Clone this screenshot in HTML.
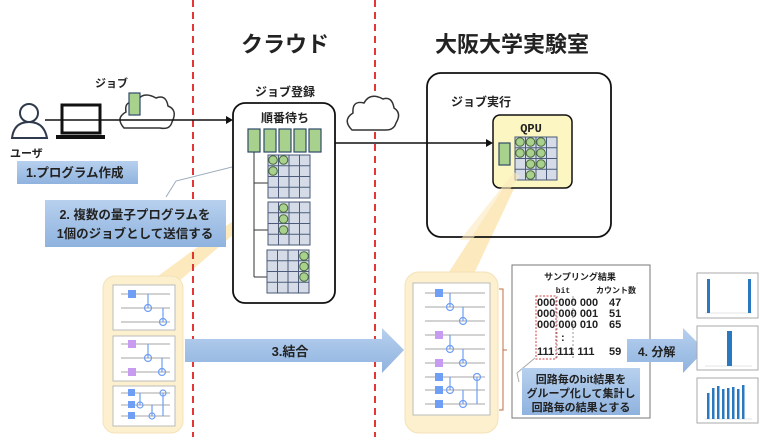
<!DOCTYPE html>
<html><head><meta charset="utf-8"><style>
html,body{margin:0;padding:0;background:#fff}
svg{display:block}
text{font-family:"Liberation Sans","Noto Sans CJK JP",sans-serif;font-weight:bold;fill:#222}
.m{font-family:"Liberation Mono","Noto Sans CJK JP",monospace}
</style></head><body>
<svg width="768" height="437" viewBox="0 0 768 437" xmlns="http://www.w3.org/2000/svg">
<defs>
<linearGradient id="bl" x1="0" y1="0" x2="0" y2="1"><stop offset="0" stop-color="#b7d0ee"/><stop offset="1" stop-color="#8fb3df"/></linearGradient>
<pattern id="gp" width="10.5" height="10.75" patternUnits="userSpaceOnUse"><rect width="10.5" height="10.75" fill="#d5dce8" stroke="#4a5a78" stroke-width="1"/></pattern>
<g id="grid"><rect x="0" y="0" width="42" height="43" fill="url(#gp)" stroke="#4a5a78" stroke-width="1"/></g>
</defs>
<!-- wedges (behind) -->
<path d="M150 282 L178 282 L262 210 L256 204 Z" fill="#fce9bd"/>
<path d="M445 278 L472 278 L520 176 L514 172 Z" fill="#fce9bd"/>
<!-- red dashed lines -->
<line x1="193" y1="0" x2="193" y2="437" stroke="#e02020" stroke-width="1.8" stroke-dasharray="7,5"/>
<line x1="375" y1="0" x2="375" y2="437" stroke="#e02020" stroke-width="1.8" stroke-dasharray="7,5"/>
<text x="285" y="52" font-size="22" text-anchor="middle">クラウド</text>
<text x="512" y="52" font-size="22" text-anchor="middle">大阪大学実験室</text>

<!-- user -->
<circle cx="29" cy="113" r="9" fill="none" stroke="#2f3b4d" stroke-width="2"/>
<path d="M12 138 Q14 122 29 122 Q44 122 47 138 Z" fill="none" stroke="#2f3b4d" stroke-width="2"/>
<text x="10" y="157" font-size="11">ユーザ</text>
<!-- laptop -->
<rect x="62" y="105" width="38" height="28" fill="#fff" stroke="#111" stroke-width="3"/>
<rect x="56" y="135" width="49" height="4" fill="#111"/>
<!-- cloud -->
<path d="M124 128 Q115 118 126 112 Q124 100 136 103 Q142 90 156 98 Q166 94 168 106 Q178 110 172 122 Q170 130 160 128 Z" fill="#fff" stroke="#333" stroke-width="1.5"/>
<rect x="129" y="93" width="11" height="22" fill="#a9d18e" stroke="#2f4a6a" stroke-width="1.2"/>
<text x="95" y="87" font-size="11">ジョブ</text>
<line x1="45" y1="120" x2="226" y2="120" stroke="#111" stroke-width="1.5"/>
<path d="M226 116 L233 120 L226 124 Z" fill="#111"/>
<rect x="17" y="161" width="121" height="23" fill="url(#bl)"/>
<text x="26" y="177" font-size="12.5">1.プログラム作成</text>

<!-- callout 2 -->
<path d="M166 197 L176 181 L268 158" fill="none" stroke="#9aaabb" stroke-width="1"/>
<rect x="45" y="200" width="181" height="47" fill="url(#bl)"/>
<text x="135" y="219" font-size="12.5" text-anchor="middle">2. 複数の量子プログラムを</text>
<text x="135" y="238" font-size="12.5" text-anchor="middle">1個のジョブとして送信する</text>

<!-- cloud box -->
<text x="285" y="96" font-size="12" text-anchor="middle">ジョブ登録</text>
<rect x="233" y="103" width="102" height="200" rx="12" fill="#fff" stroke="#111" stroke-width="1.8"/>
<text x="285" y="122" font-size="12" text-anchor="middle">順番待ち</text>
<g fill="#a9d18e" stroke="#2f4a6a" stroke-width="1.2">
<rect x="248" y="129" width="12" height="23"/><rect x="264" y="129" width="12" height="23"/><rect x="279" y="129" width="12" height="23"/><rect x="294" y="129" width="12" height="23"/><rect x="309" y="129" width="12" height="23"/>
</g>
<path d="M254 152 V277 M254 183 H268 M254 230 H268 M254 277 H268" fill="none" stroke="#333" stroke-width="1"/>
<use href="#grid" x="268" y="155"/>
<use href="#grid" x="268" y="202"/>
<use href="#grid" x="267" y="250"/>
<g fill="#a9d18e" stroke="#4a6a3a" stroke-width="1">
<circle cx="273" cy="160" r="4.3"/><circle cx="283.5" cy="160" r="4.3"/><circle cx="273" cy="171" r="4.3"/>
<circle cx="283.5" cy="208" r="4.3"/><circle cx="283.5" cy="219" r="4.3"/><circle cx="283.5" cy="230" r="4.3"/>
<circle cx="304" cy="256" r="4.3"/><circle cx="304" cy="266.5" r="4.3"/><circle cx="304" cy="277" r="4.3"/>
</g>

<!-- cloud 2 -->
<path d="M352 130 Q342 120 353 113 Q352 100 364 103 Q370 92 383 99 Q392 96 394 108 Q402 113 396 123 Q394 130 386 130 Z" fill="#fff" stroke="#333" stroke-width="1.5"/>
<line x1="335" y1="143" x2="486" y2="143" stroke="#111" stroke-width="1.5"/>
<path d="M486 139 L493 143 L486 147 Z" fill="#111"/>

<!-- lab box -->
<rect x="427" y="73" width="184" height="164" rx="14" fill="none" stroke="#111" stroke-width="1.8"/>
<text x="451" y="106" font-size="12">ジョブ実行</text>
<rect x="493" y="115" width="79" height="73" rx="7" fill="#fbf6c2" stroke="#111" stroke-width="1.5"/>
<text x="531" y="132" font-size="12" text-anchor="middle" class="m">QPU</text>
<rect x="499" y="143" width="11" height="22" fill="#a9d18e" stroke="#2f4a6a" stroke-width="1.2"/>
<use href="#grid" x="515" y="137"/>
<g fill="#a9d18e" stroke="#4a6a3a" stroke-width="1">
<circle cx="520" cy="142" r="4.3"/><circle cx="530.5" cy="142" r="4.3"/><circle cx="541" cy="142" r="4.3"/>
<circle cx="520" cy="153" r="4.3"/><circle cx="530.5" cy="153" r="4.3"/><circle cx="541" cy="153" r="4.3"/>
<circle cx="530.5" cy="164" r="4.3"/><circle cx="541" cy="164" r="4.3"/><circle cx="530.5" cy="175" r="4.3"/>
</g>
<path d="M460 240 L472 240 L520 176 L514 172 Z" fill="#fce9bd" opacity="0.6"/>

<!-- left circuits panel -->
<rect x="103" y="276" width="80" height="157" rx="12" fill="#fdf0cf" stroke="#f4e2b8"/>
<g fill="#fff" stroke="#bbb">
<rect x="113" y="285" width="62" height="45"/><rect x="113" y="336" width="62" height="45"/><rect x="113" y="386" width="62" height="40"/>
</g>
<g stroke="#888" stroke-width="0.8">
<line x1="121" y1="294" x2="170" y2="294"/><line x1="121" y1="308" x2="170" y2="308"/><line x1="121" y1="322" x2="170" y2="322"/>
<line x1="121" y1="344" x2="170" y2="344"/><line x1="121" y1="358" x2="170" y2="358"/><line x1="121" y1="372" x2="170" y2="372"/>
<line x1="121" y1="393" x2="170" y2="393"/><line x1="121" y1="405" x2="170" y2="405"/><line x1="121" y1="416" x2="170" y2="416"/>
</g>
<g fill="#6f9ef5"><rect x="128" y="290" width="8" height="8"/><rect x="128" y="389" width="7" height="7"/><rect x="128" y="401" width="7" height="7"/><rect x="128" y="412" width="7" height="7"/></g>
<g fill="#c79cf0"><rect x="128" y="340" width="8" height="8"/><rect x="128" y="368" width="8" height="8"/></g>
<g stroke="#6f9ef5" stroke-width="1.2" fill="none">
<line x1="148" y1="294" x2="148" y2="308"/><circle cx="148" cy="308" r="3.5"/><line x1="163" y1="308" x2="163" y2="322"/><circle cx="163" cy="322" r="3.5"/>
<line x1="148" y1="344" x2="148" y2="358"/><circle cx="148" cy="358" r="3.5"/><line x1="162" y1="358" x2="162" y2="372"/><circle cx="162" cy="372" r="3.5"/>
<line x1="140" y1="393" x2="140" y2="405"/><circle cx="140" cy="405" r="3"/><line x1="152" y1="405" x2="152" y2="416"/><circle cx="152" cy="416" r="3"/><line x1="163" y1="393" x2="163" y2="416"/><circle cx="163" cy="393" r="3"/>
</g>

<!-- arrow 3 -->
<path d="M185 339 H382 V328 L404 350 L382 373 V362 H185 Z" fill="url(#bl)"/>
<text x="290" y="356" font-size="13" text-anchor="middle">3.結合</text>

<!-- right circuit panel -->
<rect x="405" y="272" width="93" height="161" rx="14" fill="#fdf0cf" stroke="#f4e2b8"/>
<rect x="413" y="283" width="77" height="132" fill="#fff" stroke="#bbb"/>
<g stroke="#888" stroke-width="0.8">
<line x1="425" y1="293" x2="485" y2="293"/><line x1="425" y1="307" x2="485" y2="307"/><line x1="425" y1="321" x2="485" y2="321"/>
<line x1="425" y1="335" x2="485" y2="335"/><line x1="425" y1="349" x2="485" y2="349"/><line x1="425" y1="363" x2="485" y2="363"/>
<line x1="425" y1="377" x2="485" y2="377"/><line x1="425" y1="390" x2="485" y2="390"/><line x1="425" y1="404" x2="485" y2="404"/>
</g>
<g fill="#6f9ef5"><rect x="435" y="289" width="8" height="8"/><rect x="435" y="373" width="8" height="8"/><rect x="435" y="386" width="8" height="8"/><rect x="435" y="400" width="8" height="8"/></g>
<g fill="#c79cf0"><rect x="435" y="331" width="8" height="8"/><rect x="435" y="359" width="8" height="8"/></g>
<g stroke="#6f9ef5" stroke-width="1.2" fill="none">
<line x1="450" y1="293" x2="450" y2="307"/><circle cx="450" cy="307" r="3.5"/><line x1="463" y1="307" x2="463" y2="321"/><circle cx="463" cy="321" r="3.5"/>
<line x1="450" y1="335" x2="450" y2="349"/><circle cx="450" cy="349" r="3.5"/><line x1="463" y1="349" x2="463" y2="363"/><circle cx="463" cy="363" r="3.5"/>
<line x1="450" y1="377" x2="450" y2="390"/><circle cx="450" cy="390" r="3.5"/><line x1="463" y1="390" x2="463" y2="404"/><circle cx="463" cy="404" r="3.5"/><line x1="477" y1="377" x2="477" y2="404"/><circle cx="477" cy="377" r="3.5"/>
</g>
<path d="M499 289 H503 V410 H499 M503 350 H507" fill="none" stroke="#c07040" stroke-width="1"/>

<!-- result box -->
<rect x="512" y="265" width="138" height="153" fill="#fff" stroke="#777" stroke-width="1"/>
<text x="580" y="280" font-size="9" text-anchor="middle">サンプリング結果</text>
<text x="563" y="293" font-size="8" text-anchor="middle" class="m">bit</text>
<text x="616" y="293" font-size="8" text-anchor="middle">カウント数</text>
<g font-size="11" class="m">
<text x="537" y="306">000 000 000</text><text x="537" y="317">000 000 001</text><text x="537" y="328">000 000 010</text>
<text x="561" y="341">:</text><text x="537" y="355">111 111 111</text>
<text x="609" y="306">47</text><text x="609" y="317">51</text><text x="609" y="328">65</text><text x="609" y="355">59</text>
</g>
<rect x="536" y="296" width="20" height="63" fill="none" stroke="#d04040" stroke-dasharray="2,1.5"/>
<line x1="557" y1="296" x2="557" y2="359" stroke="#999" stroke-dasharray="2,2"/>
<line x1="573" y1="296" x2="573" y2="359" stroke="#999" stroke-dasharray="2,2"/>
<path d="M535 358 L517 373 L519 382" fill="none" stroke="#aaa"/>
<rect x="522" y="368" width="118" height="47" fill="url(#bl)"/>
<text x="581" y="383" font-size="11" text-anchor="middle">回路毎のbit結果を</text>
<text x="581" y="397" font-size="11" text-anchor="middle">グループ化して集計し</text>
<text x="581" y="411" font-size="11" text-anchor="middle">回路毎の結果とする</text>

<!-- arrow 4 -->
<path d="M627 339 H683 V328 L705 350 L683 373 V362 H627 Z" fill="url(#bl)"/>
<text x="638" y="356" font-size="12">4. 分解</text>

<!-- charts -->
<g fill="#fff" stroke="#aaa"><rect x="697" y="273" width="61" height="45"/><rect x="697" y="326" width="61" height="44"/><rect x="697" y="378" width="61" height="45"/></g>
<g stroke="#ccc" stroke-width="0.6"><line x1="705" y1="313" x2="752" y2="313"/><line x1="705" y1="366" x2="752" y2="366"/><line x1="705" y1="419" x2="752" y2="419"/></g>
<g fill="#2a78bf">
<rect x="707" y="279" width="3" height="34"/><rect x="748" y="279" width="3" height="34"/>
<rect x="727" y="331" width="5" height="35"/>
<rect x="707" y="393" width="2.5" height="26"/><rect x="712" y="388" width="2.5" height="31"/><rect x="717" y="386" width="2.5" height="33"/><rect x="722" y="389" width="2.5" height="30"/><rect x="727" y="388" width="2.5" height="31"/><rect x="732" y="387" width="2.5" height="32"/><rect x="737" y="389" width="2.5" height="30"/><rect x="742" y="385" width="2.5" height="34"/>
</g>
</svg>
</body></html>
